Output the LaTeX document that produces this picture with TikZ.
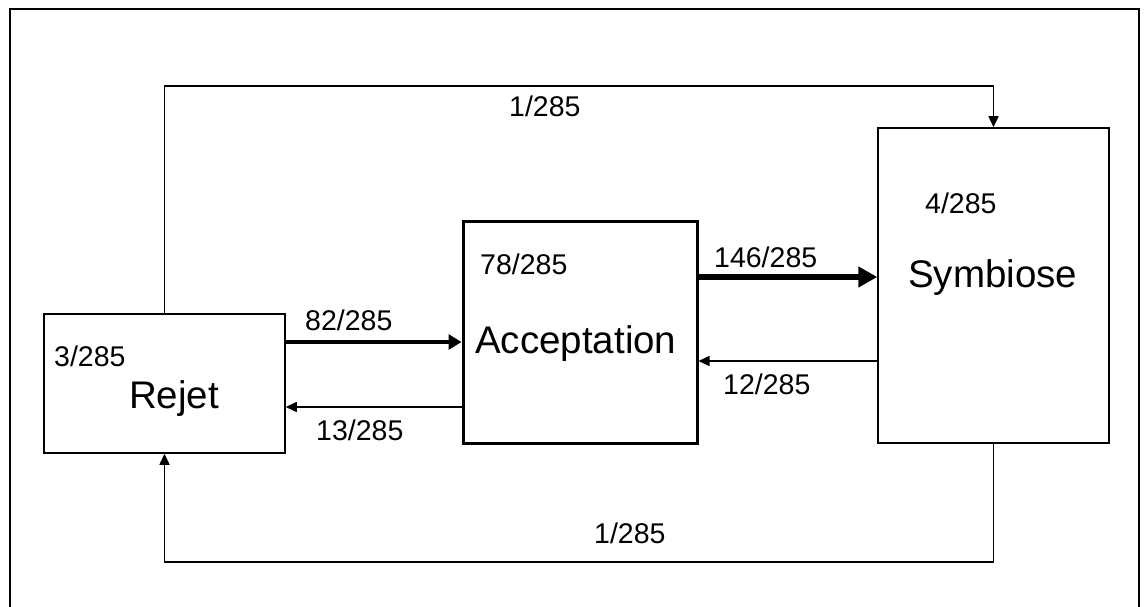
\documentclass[tikz,border=0pt]{standalone}
\usepackage{fontspec}
\setmainfont{Liberation Sans}
\usetikzlibrary{arrows.meta}
\begin{document}
\begin{tikzpicture}[x=1pt,y=-1pt,
        box/.style={draw=black,line width=1.5pt,inner sep=0pt},
        flow/.style={line width=1.5pt,-{Triangle[length=11pt,width=10pt]}},
        bigflow/.style={line width=4pt,-{Triangle[length=13pt,width=15pt]}},
        hugeflow/.style={line width=5.5pt,-{Triangle[length=19pt,width=20pt]}},
        lbl/.style={anchor=base west,inner sep=0pt,font=\fontsize{28.5}{30}\selectfont},
        title/.style={anchor=base west,inner sep=0pt,font=\fontsize{38.5}{40}\selectfont}]
    \useasboundingbox (0,0) rectangle (1144,607);
    % frame
    \draw [line width=1.5pt] (10,607) -- (10,9) -- (1139,9) -- (1139,607);
    % the three states
    \node [box,minimum width=241pt,minimum height=139pt] (rejet) at (164.5,383.5) {};
    \node [box,line width=3pt,minimum width=234pt,minimum height=222pt] (accept) at (580,332) {};
    \node [box,minimum width=231pt,minimum height=315pt] (symb) at (993.5,285.5) {};
    \node [title] (rejetname) at (129,408) {Rejet};
    \node [title] (acceptname) at (475,353) {Acceptation};
    \node [title] (symbname) at (908,287) {Symbiose};
    \node [lbl] (rejetstay) at (54,366) {3/285};
    \node [lbl] (acceptstay) at (480,274) {78/285};
    \node [lbl] (symbstay) at (925,214) {4/285};
    % transitions
    \draw [bigflow] (rejet.east |- 0,342) -- (accept.west |- 0,342);
    \draw [flow] (accept.west |- 0,407) -- (rejet.east |- 0,407);
    \draw [hugeflow] (accept.east |- 0,277) -- (symb.west |- 0,277);
    \draw [flow] (symb.west |- 0,361) -- (accept.east |- 0,361);
    \draw [flow] (rejet.north) -- (rejet.north |- 0,86) -| (symb.north);
    \draw [flow] (symb.south) -- (symb.south |- 0,562) -| (rejet.south);
    \node [lbl] (ra) at (305,330) {82/285};
    \node [lbl] (ar) at (316,440) {13/285};
    \node [lbl] (as) at (714,267) {146/285};
    \node [lbl] (sa) at (723,394) {12/285};
    \node [lbl] (rs) at (509,117) {1/285};
    \node [lbl] (sr) at (594,543) {1/285};
\end{tikzpicture}
\end{document}
